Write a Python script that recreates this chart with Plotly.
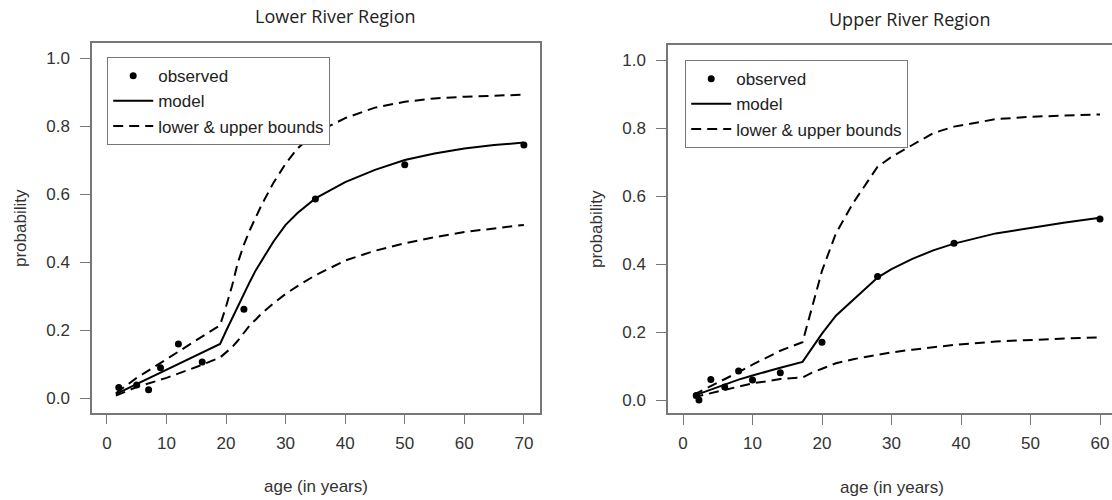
import plotly.graph_objects as go

# ---------------- data: Lower River Region ----------------
low_obs_age = [2, 5, 7, 9, 12, 16, 23, 35, 50, 70]
low_obs_p = [0.032, 0.039, 0.025, 0.090, 0.160, 0.107, 0.262, 0.586, 0.687, 0.745]

low_curve_age = [1.5, 5, 10, 15, 19, 20, 21, 22, 23, 24, 25, 26, 28, 30, 32, 35, 40, 45, 50, 55, 60, 65, 70]
low_model = [0.012, 0.042, 0.085, 0.127, 0.160, 0.198, 0.235, 0.272, 0.307, 0.343, 0.377, 0.405, 0.462, 0.510, 0.545, 0.588, 0.636, 0.672, 0.701, 0.720, 0.735, 0.745, 0.752]
low_upper = [0.015, 0.060, 0.115, 0.170, 0.215, 0.270, 0.330, 0.400, 0.452, 0.495, 0.535, 0.570, 0.635, 0.690, 0.735, 0.780, 0.824, 0.855, 0.872, 0.882, 0.887, 0.890, 0.893]
low_lower = [0.008, 0.033, 0.060, 0.092, 0.120, 0.135, 0.150, 0.170, 0.192, 0.215, 0.232, 0.250, 0.280, 0.307, 0.330, 0.362, 0.405, 0.434, 0.456, 0.474, 0.489, 0.500, 0.510]

# ---------------- data: Upper River Region ----------------
up_obs_age = [1.9, 2.3, 4, 6, 8, 10, 14, 20, 28, 39, 60]
up_obs_p = [0.013, 0.000, 0.060, 0.038, 0.085, 0.059, 0.080, 0.170, 0.363, 0.461, 0.532]

up_curve_age = [1.5, 4, 6, 8, 10, 12, 14, 17.2, 18.5, 20, 22, 24.5, 28, 30, 33, 36, 39, 45, 50, 55, 60]
up_model = [0.012, 0.030, 0.045, 0.060, 0.072, 0.084, 0.095, 0.112, 0.150, 0.195, 0.248, 0.294, 0.360, 0.385, 0.415, 0.440, 0.460, 0.490, 0.507, 0.522, 0.536]
up_upper = [0.015, 0.040, 0.060, 0.082, 0.104, 0.125, 0.145, 0.170, 0.270, 0.380, 0.490, 0.580, 0.686, 0.715, 0.750, 0.785, 0.804, 0.826, 0.833, 0.837, 0.840]
up_lower = [0.008, 0.020, 0.030, 0.040, 0.049, 0.055, 0.062, 0.066, 0.080, 0.092, 0.108, 0.120, 0.134, 0.140, 0.148, 0.156, 0.162, 0.172, 0.177, 0.181, 0.184]

titles = ["Lower River Region", "Upper River Region"]
x_title = "age (in years)"
y_title = "probability"
legend_names = ["observed", "model", "lower & upper bounds"]
low_xticks = [0, 10, 20, 30, 40, 50, 60, 70]
up_xticks = [0, 10, 20, 30, 40, 50, 60]
yticks = [0, 0.2, 0.4, 0.6, 0.8, 1.0]

W, H = 1112, 500
AX_COL = "#777777"
TXT_COL = "#333333"
FONT = "Liberation Sans, Arial, sans-serif"
FS = 17

fig = go.Figure()


def add_panel(obs_x, obs_y, cx, model, upper, lower, xa, ya, leg):
    fig.add_trace(go.Scatter(x=obs_x, y=obs_y, mode="markers", name=legend_names[0],
                             marker=dict(color="black", size=7), xaxis=xa, yaxis=ya, legend=leg))
    fig.add_trace(go.Scatter(x=cx, y=model, mode="lines", name=legend_names[1],
                             line=dict(color="black", width=2), xaxis=xa, yaxis=ya, legend=leg))
    fig.add_trace(go.Scatter(x=cx, y=upper, mode="lines", name=legend_names[2],
                             line=dict(color="black", width=2, dash="10px,6px"),
                             legendgroup=leg + "b", xaxis=xa, yaxis=ya, legend=leg))
    fig.add_trace(go.Scatter(x=cx, y=lower, mode="lines", name=legend_names[2], showlegend=False,
                             line=dict(color="black", width=2, dash="10px,6px"),
                             legendgroup=leg + "b", xaxis=xa, yaxis=ya, legend=leg))


add_panel(low_obs_age, low_obs_p, low_curve_age, low_model, low_upper, low_lower, "x", "y", "legend")
add_panel(up_obs_age, up_obs_p, up_curve_age, up_model, up_upper, up_lower, "x2", "y2", "legend2")


def px_x(p):
    return p / W


def px_y(p):
    return 1 - p / H


axis_common = dict(showgrid=False, zeroline=False, showline=True, linecolor=AX_COL, linewidth=1.5,
                   ticks="outside", ticklen=10, tickcolor=AX_COL, tickwidth=1.2,
                   tickfont=dict(family=FONT, size=FS, color=TXT_COL))

# left panel geometry (pixels)
L_x0, L_x1 = 92, 540
L_xt0, L_xpu = 106.9, 5.957
L_y0, L_y1 = 43.3, 412.7
L_yz, L_ypu = 398.3, 340
# right panel geometry
R_x0, R_x1 = 668, 1112
R_xt0, R_xpu = 683, 6.95
R_y0, R_y1 = 45.3, 413.3
R_yz, R_ypu = 400, 340

leg_common = dict(xanchor="left", yanchor="top", bgcolor="white", bordercolor=AX_COL,
                  borderwidth=1.2, itemwidth=40, tracegroupgap=0,
                  font=dict(family=FONT, size=FS, color="#222222"))

fig.update_layout(
    width=W, height=H, autosize=False,
    margin=dict(l=0, r=0, t=0, b=0),
    paper_bgcolor="white", plot_bgcolor="white",
    xaxis=dict(axis_common, domain=[px_x(L_x0), px_x(L_x1)],
               range=[(L_x0 - L_xt0) / L_xpu, (L_x1 - L_xt0) / L_xpu],
               tickvals=low_xticks, mirror=True, anchor="y", ticklabelstandoff=4),
    yaxis=dict(axis_common, domain=[px_y(L_y1), px_y(L_y0)],
               range=[(L_yz - L_y1) / L_ypu, (L_yz - L_y0) / L_ypu],
               tickvals=yticks, tickformat=".1f", mirror=True, anchor="x", ticklabelstandoff=7),
    xaxis2=dict(axis_common, domain=[px_x(R_x0), px_x(R_x1)],
                range=[(R_x0 - R_xt0) / R_xpu, (R_x1 - R_xt0) / R_xpu],
                tickvals=up_xticks, mirror=True, anchor="y2", ticklabelstandoff=4),
    yaxis2=dict(axis_common, domain=[px_y(R_y1), px_y(R_y0)],
                range=[(R_yz - R_y1) / R_ypu, (R_yz - R_y0) / R_ypu],
                tickvals=yticks, tickformat=".1f", mirror=False, anchor="x2", ticklabelstandoff=7),
    legend=dict(leg_common, x=px_x(107), y=px_y(57)),
    legend2=dict(leg_common, x=px_x(685), y=px_y(60)),
    showlegend=True,
)

for txt, xc, yc in [(titles[0], 335, 16), (titles[1], 909, 19)]:
    fig.add_annotation(text=txt, x=px_x(xc), y=px_y(yc), xref="paper", yref="paper",
                       xanchor="center", yanchor="middle", showarrow=False,
                       font=dict(family="Open Sans, DejaVu Sans, sans-serif", size=18, color="#222222"))

for xc, yc in [((L_x0 + L_x1) / 2, 486), (892, 487)]:
    fig.add_annotation(text=x_title, x=px_x(xc), y=px_y(yc), xref="paper", yref="paper",
                       xanchor="center", yanchor="middle", showarrow=False,
                       font=dict(family=FONT, size=FS, color=TXT_COL))
for xc, yc in [(21, 228), (597, 229)]:
    fig.add_annotation(text=y_title, x=px_x(xc), y=px_y(yc), xref="paper", yref="paper",
                       xanchor="center", yanchor="middle", showarrow=False, textangle=-90,
                       font=dict(family=FONT, size=FS, color=TXT_COL))

fig.write_html("out.html", config={"displayModeBar": False},
               post_script="document.body.style.margin='0px'; document.body.style.overflow='hidden';")
